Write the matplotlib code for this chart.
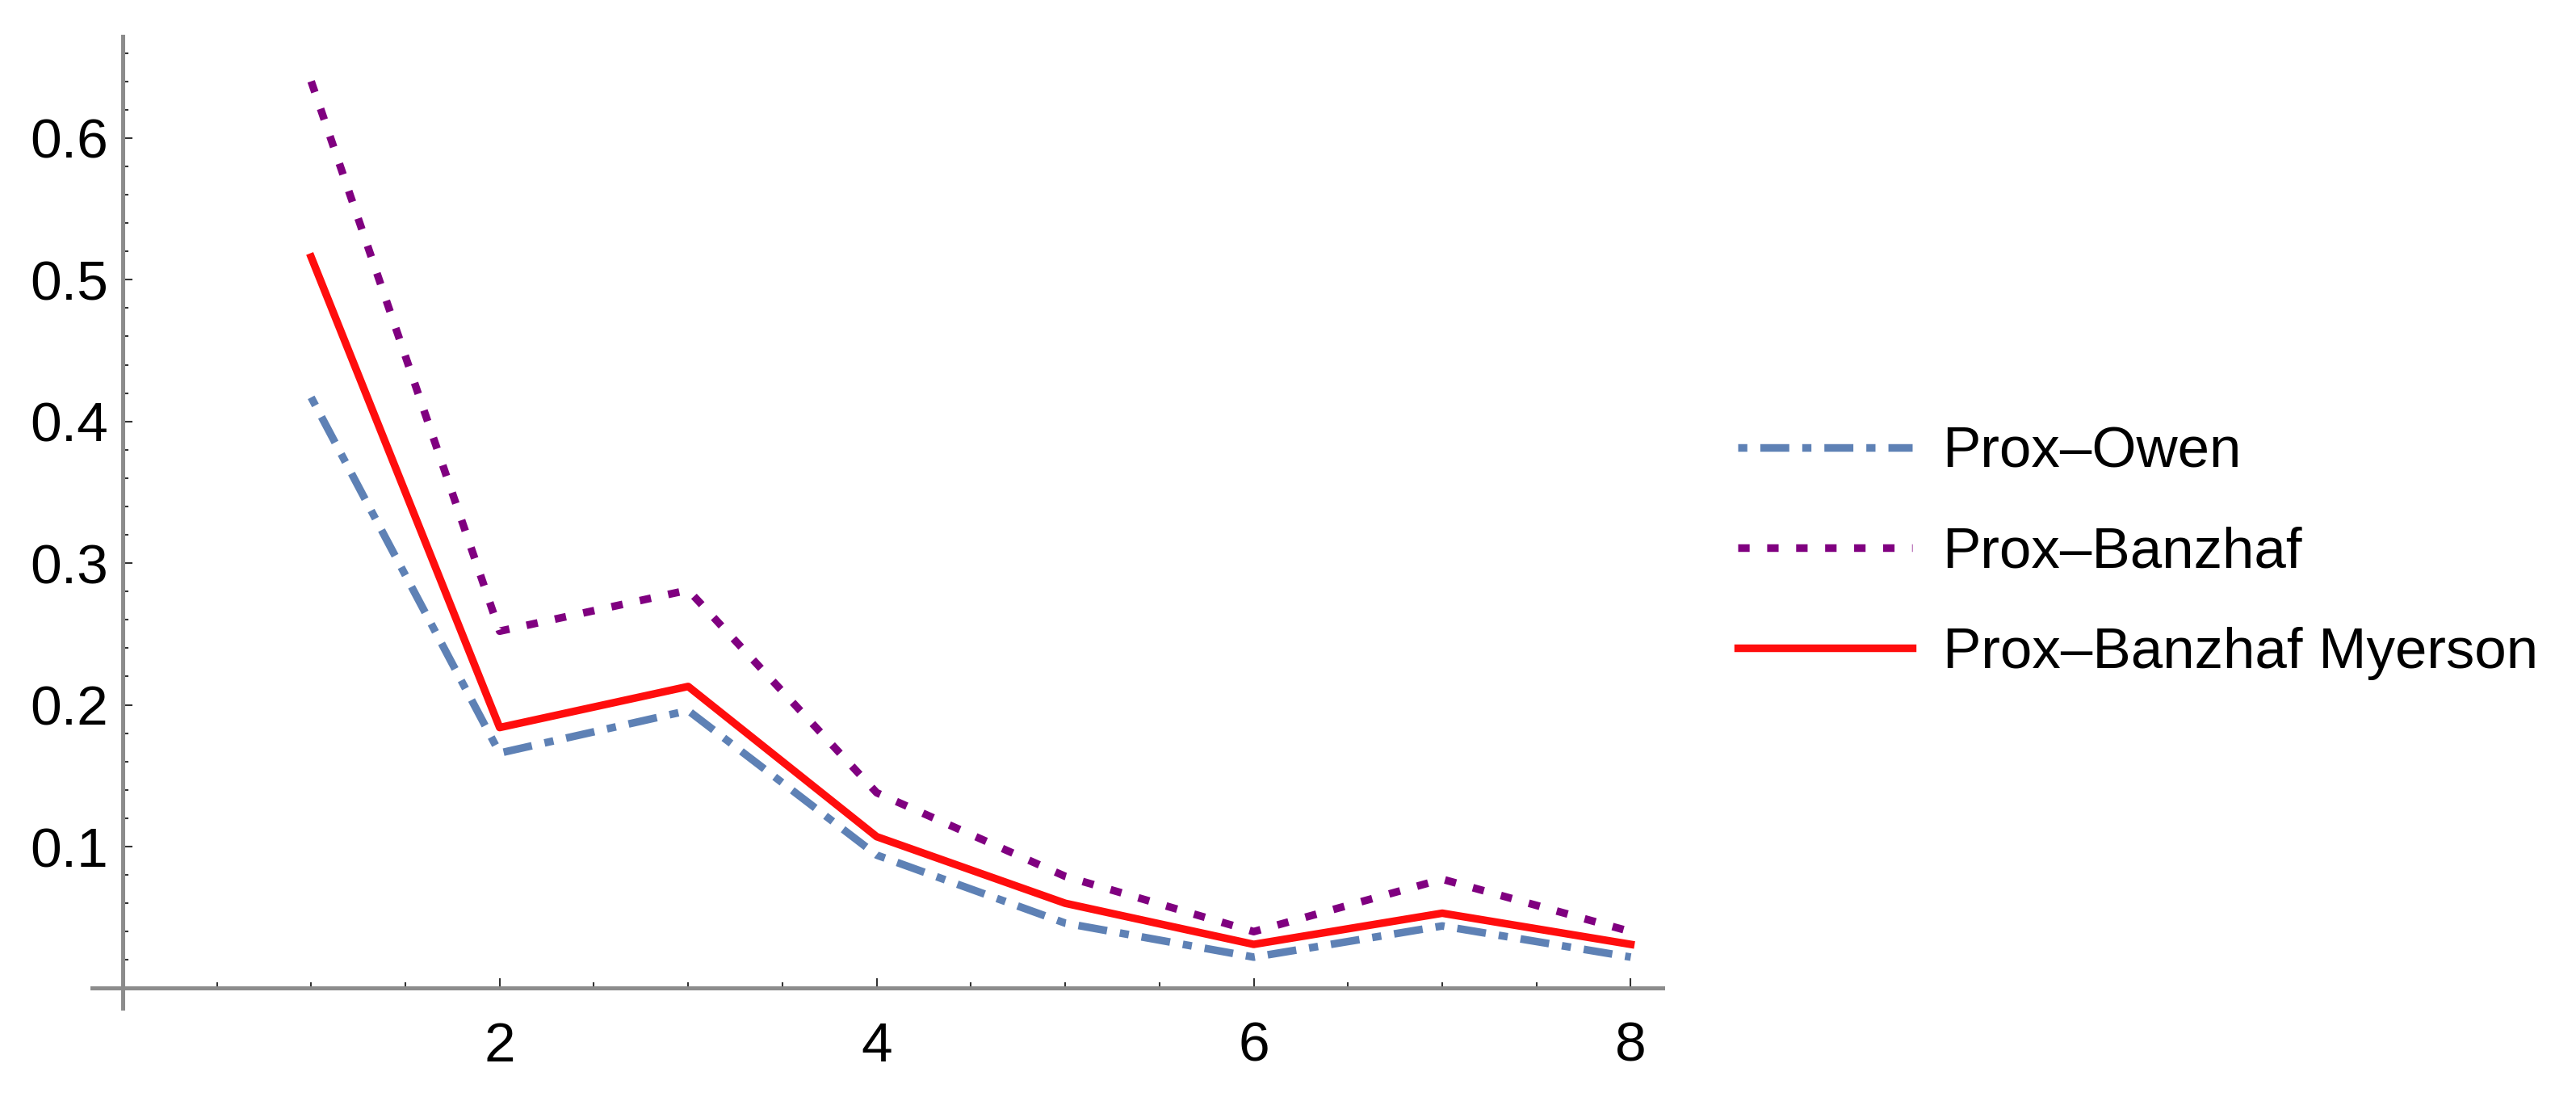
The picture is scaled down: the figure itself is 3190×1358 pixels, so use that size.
import matplotlib
matplotlib.use("Agg")
import matplotlib.pyplot as plt
from matplotlib.ticker import FixedLocator

# data
x = [1, 2, 3, 4, 5, 6, 7, 8]
prox_owen = [0.417, 0.166, 0.196, 0.094, 0.046, 0.022, 0.044, 0.022]
prox_banzhaf = [0.640, 0.252, 0.281, 0.138, 0.079, 0.040, 0.077, 0.040]
prox_banzhaf_myerson = [0.516, 0.184, 0.213, 0.107, 0.060, 0.031, 0.053, 0.031]
labels = ["Prox–Owen", "Prox–Banzhaf", "Prox–Banzhaf Myerson"]

x_major = [2, 4, 6, 8]
x_minor = [0.5, 1, 1.5, 2.5, 3, 3.5, 4.5, 5, 5.5, 6.5, 7, 7.5]
y_major = [0.1, 0.2, 0.3, 0.4, 0.5, 0.6]
y_minor = [0.02, 0.04, 0.06, 0.08, 0.12, 0.14, 0.16, 0.18, 0.22, 0.24, 0.26, 0.28,
           0.32, 0.34, 0.36, 0.38, 0.42, 0.44, 0.46, 0.48, 0.52, 0.54, 0.56, 0.58,
           0.62, 0.64, 0.66]

plt.rcParams['font.family'] = ['Liberation Sans', 'DejaVu Sans']

fig = plt.figure(figsize=(31.9, 13.58), dpi=100)
ax = fig.add_axes([0.0356, 0.0810, 0.6099, 0.8862])

lw = 6.8
ax.plot(x, prox_owen, color='#5E81B5', lw=lw, dashes=(1.2, 1.7, 3.8, 1.7), label=labels[0])
ax.plot(x, prox_banzhaf, color='#800080', lw=lw, dashes=(1.5, 2.3), label=labels[1])
ax.plot(x, prox_banzhaf_myerson, color='#FF0D0D', lw=lw, label=labels[2])

ax.set_xlim(-0.164, 8.17)
ax.set_ylim(-0.014, 0.672)

# Mathematica style axes crossing at the origin
for s in ['top', 'right']:
    ax.spines[s].set_visible(False)
ax.spines['left'].set_position(('data', 0))
ax.spines['bottom'].set_position(('data', 0))
for s in ['left', 'bottom']:
    ax.spines[s].set_color('#8c8c8c')
    ax.spines[s].set_linewidth(3.6)

ax.xaxis.set_major_locator(FixedLocator(x_major))
ax.xaxis.set_minor_locator(FixedLocator(x_minor))
ax.yaxis.set_major_locator(FixedLocator(y_major))
ax.yaxis.set_minor_locator(FixedLocator(y_minor))
ax.set_xticklabels([str(v) for v in x_major])
ax.set_yticklabels(["%.1f" % v for v in y_major])

ax.tick_params(which='both', direction='in', color='#333333', width=1.5)
ax.tick_params(which='major', length=8.6, labelsize=50)
ax.tick_params(which='minor', length=5)
ax.tick_params(axis='x', which='major', pad=29)
ax.tick_params(axis='y', which='major', pad=13)

fig.legend(loc='center left', bbox_to_anchor=(0.6746, 0.4956), frameon=False,
           fontsize=51, borderpad=0, borderaxespad=0, handlelength=3.05,
           handletextpad=0.53, labelspacing=0.82)

fig.savefig("out.png", dpi=100)
